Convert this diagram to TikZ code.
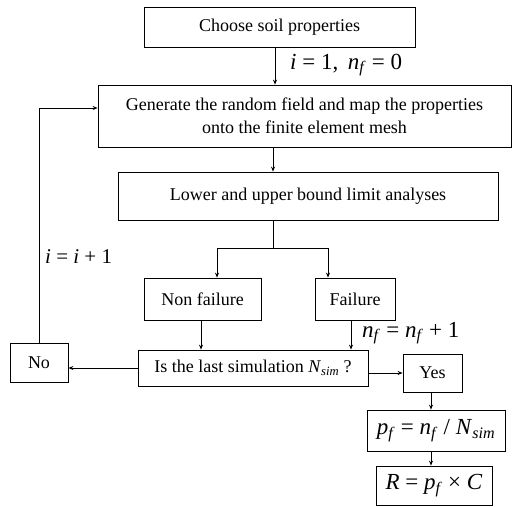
\documentclass[tikz,border=0pt]{standalone}
\usepackage{fontspec}
\setmainfont{Liberation Serif}
\usetikzlibrary{arrows.meta}
\newcommand\mv[1]{\textit{#1}}
\newcommand\sbs[1]{\textsubscript{\textit{#1}}}
\begin{document}
\begin{tikzpicture}[x=1pt,y=-1pt,
  box/.style={draw, line width=0.8pt, inner sep=0pt, align=center, font=\fontsize{18}{23}\selectfont},
  mbox/.style={box, font=\fontsize{23}{26}\selectfont},
  arr/.style={-{Stealth[length=5pt,width=4pt]}, line width=0.8pt},
  ln/.style={line width=0.8pt},
  mth/.style={font=\fontsize{23}{26}\selectfont, inner sep=0pt},
  mths/.style={font=\fontsize{21}{24}\selectfont, inner sep=0pt}]
\useasboundingbox (0,0) rectangle (513,506);
% boxes
\node[box, minimum width=271pt, minimum height=40pt] (b1) at (279.5,27) {Choose soil properties};
\node[box, minimum width=413pt, minimum height=62pt] (b2) at (304.5,116) {Generate the random field and map the properties\\onto the finite element mesh};
\node[box, minimum width=380pt, minimum height=48pt] (b3) at (308,196) {Lower and upper bound limit analyses};
\node[box, minimum width=117pt, minimum height=42pt] (nf) at (202.5,299) {Non failure};
\node[box, minimum width=80pt, minimum height=42pt] (fa) at (355,299) {Failure};
\node[box, minimum width=230pt, minimum height=36pt] (dec) at (253,368) {Is the last simulation \mv{N}\sbs{sim} ?};
\node[box, minimum width=58pt, minimum height=39pt] (no) at (39,362.5) {No};
\node[box, minimum width=59pt, minimum height=38pt] (yes) at (432.5,373) {Yes};
\node[mbox, minimum width=138pt, minimum height=41pt] (pf) at (436,430.5) {\mv{p}\sbs{f} = \mv{n}\sbs{f} / \mv{N}\sbs{sim}};
\node[mbox, minimum width=116pt, minimum height=39pt] (R) at (434,485.5) {\mv{R} = \mv{p}\sbs{f} × \mv{C}};
% labels
\node[mth, anchor=west] (l1) at (290,65) {\mv{i} = 1,\, \mv{n}\sbs{f} = 0};
\node[mth, anchor=west] (l2) at (362,333) {\mv{n}\sbs{f} = \mv{n}\sbs{f} + 1};
\node[mths, anchor=west] (l3) at (45,257) {\mv{i} = \mv{i} + 1};
% helper coordinates
\coordinate (c275) at (275,0);
\coordinate (c273) at (273,0);
\coordinate (j) at (273,248);
\coordinate (cl) at (217,248);
\coordinate (cr) at (328,248);
\coordinate (c201) at (201,0);
\coordinate (c351) at (351,0);
\coordinate (c431) at (431,0);
\coordinate (ly) at (0,108);
% connectors
\draw[arr] (b1.south -| c275) -- (b2.north -| c275);
\draw[arr] (b2.south -| c273) -- (b3.north -| c273);
\draw[ln] (b3.south -| c273) -- (j);
\draw[arr] (j) -- (cl) -- (nf.north -| cl);
\draw[arr] (j) -- (cr) -- (fa.north -| cr);
\draw[arr] (nf.south -| c201) -- (dec.north -| c201);
\draw[arr] (fa.south -| c351) -- (dec.north -| c351);
\draw[arr] (dec.west) -- (no.east |- dec.west);
\draw[arr] (dec.east |- yes.west) -- (yes.west);
\draw[arr] (yes.south -| c431) -- (pf.north -| c431);
\draw[arr] (pf.south -| c431) -- (R.north -| c431);
\draw[arr] (no.north) |- (b2.west |- ly);
\end{tikzpicture}
\end{document}
